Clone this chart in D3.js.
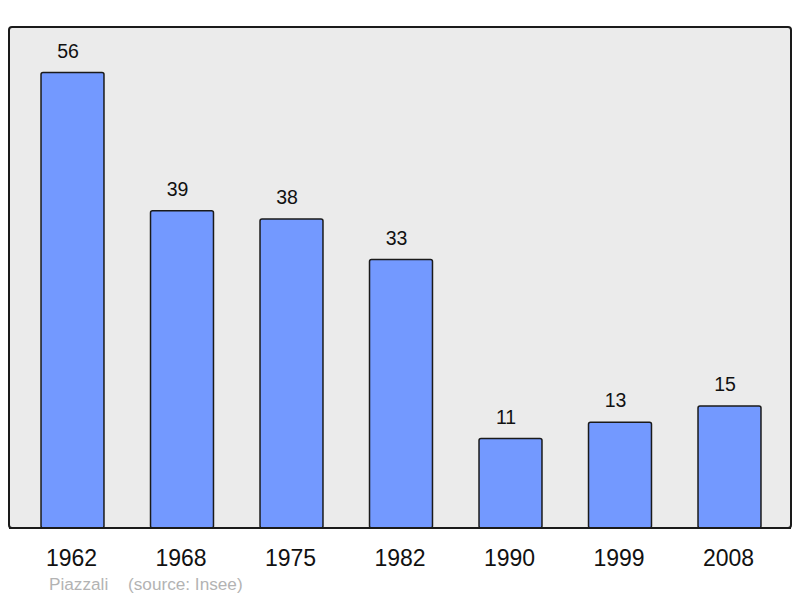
<!DOCTYPE html>
<html><head><meta charset="utf-8">
<script src="https://cdn.jsdelivr.net/npm/d3@7"></script>
<style>body{margin:0;background:#fff;}svg{display:block;font-family:"Liberation Sans",Arial,sans-serif;}</style>
</head><body>
<svg id="c" width="800" height="598"></svg>
<script>
const years = ["1962","1968","1975","1982","1990","1999","2008"];
const population = [56,39,38,33,11,13,15];
const author = "Piazzali";
const source = "(source: Insee)";

const svg = d3.select("#c");
const frame = {x0:9, y0:27, x1:791, y1:528};

svg.append("rect").attr("x",frame.x0).attr("y",frame.y0)
  .attr("width",frame.x1-frame.x0).attr("height",frame.y1-frame.y0)
  .attr("rx",3).attr("fill","#ebebeb").attr("stroke","#1a1a1a").attr("stroke-width",2);

const x = d3.scaleBand().domain(years).range([17.75,784.25]).paddingInner(0.425).paddingOuter(0.2125);
const y = d3.scaleLinear().domain([0, d3.max(population)*1.1]).range([frame.y1, frame.y0]);

const g = svg.append("g");
g.selectAll("rect.bar").data(years).join("rect").attr("class","bar")
  .attr("x",d=>x(d)).attr("width",x.bandwidth())
  .attr("y",(d,i)=>y(population[i])).attr("height",(d,i)=>y(0)-y(population[i]))
  .attr("rx",2).attr("fill","#7399ff").attr("stroke","#1a1a1a").attr("stroke-width",1.5);

g.selectAll("text.val").data(years).join("text").attr("class","val")
  .attr("x",d=>x(d)+x.bandwidth()/2-4.5).attr("y",(d,i)=>y(population[i])-14.8)
  .attr("text-anchor","middle").attr("font-size",19.5).attr("fill","#111")
  .text((d,i)=>population[i]);

svg.append("line").attr("x1",frame.x0).attr("x2",frame.x1).attr("y1",frame.y1).attr("y2",frame.y1)
  .attr("stroke","#1a1a1a").attr("stroke-width",2);

const axis = d3.axisBottom(x).tickSize(0).tickPadding(0);
const ax = svg.append("g").attr("transform",`translate(0,${frame.y1})`).call(axis);
ax.select(".domain").remove();
ax.selectAll("text").attr("font-size",23).attr("fill","#111").attr("dy",null).attr("y",37.5)
  .attr("dx",-1).style("font-family","'Liberation Sans',Arial,sans-serif");

svg.append("text").attr("x",49).attr("y",590).attr("font-size",17.2).attr("fill","#b3b3b3").text(author);
svg.append("text").attr("x",128).attr("y",590).attr("font-size",17.2).attr("fill","#b3b3b3").text(source);
</script>
</body></html>
